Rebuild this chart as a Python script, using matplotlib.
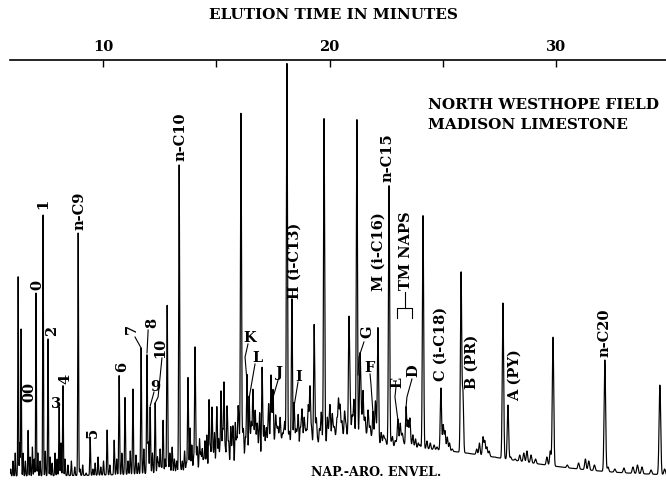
import numpy as np
import matplotlib
matplotlib.use("Agg")
import matplotlib.pyplot as plt

plt.rcParams["font.family"] = ["DejaVu Serif"]
plt.rcParams["font.weight"] = "bold"

# Resolved peaks: retention time (min) and apex detector response
peak_times = [6.25, 6.38, 6.69, 7.04, 7.35, 7.57, 8.06, 8.23, 8.90, 9.43,
              10.18, 10.49, 10.71, 10.97, 11.32, 11.68, 11.94, 12.08, 12.30, 12.65,
              12.83, 13.36, 13.75, 13.84, 14.06, 14.68, 14.81, 15.03, 15.21, 15.34,
              15.47, 15.74, 15.96, 16.09, 16.36, 16.45, 16.62, 17.02, 17.42, 17.51,
              18.12, 18.34, 18.43, 18.79, 19.14, 19.32, 19.76, 20.02, 20.46, 20.86,
              20.99, 21.21, 21.35, 21.48, 21.92, 22.01, 22.14, 22.63, 23.02, 23.38,
              23.55, 24.13, 24.92, 25.81, 25.89, 26.78, 27.66, 27.88, 29.87, 32.16,
              34.59]
peak_apex = [208, 154, 53, 190, 270, 145, 76, 98, 250, 46,
             53, 43, 108, 86, 94, 135, 128, 76, 80, 63,
             178, 318, 106, 55, 133, 83, 75, 66, 91, 100,
             66, 53, 70, 366, 100, 85, 80, 110, 101, 86,
             418, 183, 76, 65, 91, 156, 363, 70, 71, 161,
             60, 364, 123, 88, 70, 58, 152, 298, 63, 76,
             63, 268, 95, 210, 90, 46, 180, 78, 146, 123,
             98]

# Small unresolved components ("grass")
minor_times = [5.92, 6.02, 6.12, 6.32, 6.47, 6.57, 6.78, 6.88, 6.96, 7.12,
               7.22, 7.45, 7.66, 7.75, 7.88, 7.97, 8.14, 8.32, 8.45, 8.60,
               8.75, 8.98, 9.10, 9.25, 9.55, 9.65, 9.78, 9.90, 10.02,
               10.30, 10.60, 10.83, 11.10, 11.20, 11.45, 11.56, 11.80, 12.00, 12.18,
               12.40, 12.52, 12.74, 12.95, 13.05, 13.15, 13.50, 13.60, 13.92, 14.16,
               14.26, 14.38, 14.50, 14.58, 14.92, 15.10, 15.28, 15.55, 15.64, 15.84,
               16.00, 16.20, 16.28, 16.55, 16.72, 16.82, 16.92, 17.12, 17.22, 17.32,
               17.62, 17.72, 17.82, 17.92, 18.02, 18.24, 18.52, 18.62, 18.70, 18.88,
               18.98, 19.06, 19.20, 19.42, 19.55, 19.64, 19.90, 19.98, 20.12, 20.22,
               20.32, 20.40, 20.55, 20.66, 20.74, 20.92, 21.08, 21.40, 21.58, 21.70,
               21.80, 22.04, 22.28, 22.38, 22.48, 22.78, 22.90, 23.12, 23.22, 23.46,
               23.68, 23.80, 23.92, 24.00, 24.30, 24.45, 24.62, 24.75, 25.02, 25.10,
               25.20, 25.30, 25.42, 25.60, 26.10, 26.30, 26.50, 26.62, 26.86, 26.95,
               27.05, 27.30, 28.00, 28.20, 28.40, 28.58, 28.72, 28.90, 29.10, 29.60,
               29.75, 30.50, 31.00, 31.30, 31.45, 31.70, 32.30, 32.60, 33.00, 33.40,
               33.60, 33.80, 34.20, 34.80,
               12.45, 12.58, 12.88, 13.25, 13.42, 13.68, 14.00, 14.10, 14.32, 14.44,
               14.74, 14.86, 15.00, 15.16, 15.40, 15.50, 15.70, 15.90, 16.05, 16.15,
               16.33, 16.50, 16.60, 16.67, 16.78, 16.88, 17.06, 17.18, 17.28, 17.38,
               17.47, 17.57, 17.67, 17.77, 17.87, 17.97, 18.07, 18.20, 18.29, 18.47,
               18.57, 18.75, 18.83, 18.93, 19.02, 19.10, 19.25, 19.37, 19.48, 19.60,
               19.70, 19.82, 19.94, 20.06, 20.17, 20.27, 20.36, 20.50, 20.60, 20.70,
               20.80, 20.90, 21.03, 21.14, 21.30, 21.44, 21.54, 21.64, 21.75, 21.86,
               21.97, 22.10, 22.20, 22.33, 22.43, 22.55, 22.72, 22.84, 22.96, 23.07,
               23.17, 23.28, 23.50, 23.60, 23.74, 23.86]
minor_apex = [14, 22, 30, 40, 30, 22, 26, 36, 24, 30,
              22, 32, 26, 20, 30, 24, 40, 24, 18, 22,
              16, 14, 18, 10, 14, 20, 26, 16, 22,
              18, 24, 30, 22, 32, 28, 20, 34, 40, 30,
              26, 34, 24, 30, 36, 24, 22, 32, 38, 36,
              44, 34, 42, 48, 50, 44, 52, 40, 56, 60,
              48, 52, 44, 58, 70, 52, 66, 56, 50, 72,
              64, 52, 62, 46, 58, 44, 50, 66, 52, 62,
              48, 70, 54, 62, 52, 66, 62, 48, 66, 52,
              58, 78, 58, 66, 52, 70, 80, 66, 58, 70,
              54, 66, 50, 46, 42, 46, 42, 58, 48, 60,
              48, 44, 40, 38, 42, 40, 38, 36, 58, 52,
              46, 40, 34, 30, 30, 28, 34, 40, 42, 36,
              32, 26, 26, 24, 28, 30, 32, 28, 24, 26,
              32, 18, 20, 24, 22, 18, 16, 14, 15, 16,
              18, 16, 13, 14,
              20, 16, 20, 22, 16, 20, 24, 32, 30, 24,
              36, 30, 38, 32, 34, 40, 36, 44, 38, 46,
              38, 42, 36, 44, 46, 38, 46, 40, 48, 42,
              50, 38, 50, 44, 40, 46, 38, 44, 36, 42,
              46, 50, 38, 48, 40, 46, 38, 48, 42, 44,
              40, 46, 42, 44, 50, 42, 48, 50, 44, 48,
              46, 42, 52, 46, 48, 44, 52, 46, 48, 44,
              40, 44, 40, 38, 42, 38, 40, 36, 40, 38,
              42, 40, 42, 38, 36, 34]

# Naphthenic-aromatic envelope under the resolved peaks
ENV_BASE = 7.0
ENV_HEIGHT = 28.0
ENV_CENTER = 23.0
ENV_SIGMA_LEFT = 5.0
ENV_SIGMA_RIGHT = 4.8

axis_ticks = [10, 15, 20, 25, 30]
axis_tick_labels = ["10", "", "20", "", "30"]

# Peak labels: text, time, response, rotation
labels = [
    ("00", 6.73, 91, 90), ("0", 7.09, 198, 90), ("1", 7.35, 279, 90),
    ("2", 7.75, 152, 90), ("3", 7.92, 79, 0), ("4", 8.32, 104, 90),
    ("n-C9", 8.94, 272, 90), ("5", 9.56, 50, 90), ("6", 10.84, 116, 90),
    ("7", 11.28, 154, 90), ("8", 12.16, 160, 90), ("9", 12.30, 96, 0),
    ("10", 12.52, 135, 90), ("n-C10", 13.40, 346, 90), ("K", 16.49, 145, 0),
    ("L", 16.84, 125, 0), ("J", 17.77, 110, 0), ("H (i-C13)", 18.48, 222, 90),
    ("I", 18.65, 106, 0), ("M (i-C16)", 22.19, 231, 90), ("G", 21.66, 151, 90),
    ("F", 21.79, 115, 0), ("n-C15", 22.54, 325, 90), ("TM NAPS", 23.38, 232, 90),
    ("E", 22.98, 101, 90), ("D", 23.69, 112, 90), ("C (i-C18)", 24.92, 139, 90),
    ("B (PR)", 26.29, 121, 90), ("A (PY)", 28.19, 108, 90), ("n-C20", 32.16, 150, 90),
]

# Leader lines from labels to their peaks
leaders = [
    [(11.41, 146), (11.68, 135)],
    [(11.99, 153), (11.94, 130)],
    [(12.25, 91), (12.08, 77)],
    [(12.60, 125), (12.43, 86), (12.30, 80)],
    [(16.40, 139), (16.27, 126), (16.36, 100)],
    [(16.71, 119), (16.45, 85)],
    [(17.73, 103), (17.51, 86)],
    [(18.61, 101), (18.43, 76)],
    [(21.52, 141), (21.30, 126), (21.26, 108)],
    [(21.79, 109), (21.83, 99), (21.92, 70)],
    [(22.94, 97), (22.89, 86), (23.02, 63)],
    [(23.64, 104), (23.42, 86), (23.38, 76)],
    [(23.33, 191), (23.33, 175)],
    [(22.98, 165), (22.98, 175), (23.64, 175), (23.64, 165)],
]


def envelope(t):
    t = np.asarray(t, dtype=float)
    sig = np.where(t < ENV_CENTER, ENV_SIGMA_LEFT, ENV_SIGMA_RIGHT)
    return ENV_BASE + ENV_HEIGHT * np.exp(-0.5 * ((t - ENV_CENTER) / sig) ** 2)


t = np.arange(5.9, 34.9, 0.004)
signal = envelope(t)
for tc, apex in zip(peak_times + minor_times, peak_apex + minor_apex):
    amp = max(apex - float(envelope(tc)), 0.0)
    width = 0.015 + 0.0007 * (tc - 6.0)
    signal = signal + amp * np.exp(-0.5 * ((t - tc) / width) ** 2)

fig = plt.figure(figsize=(6.66, 4.83), dpi=100)
ax = fig.add_axes([10 / 666, 0.0, 656 / 666, 423 / 483])
ax.plot(t, signal, color="black", lw=0.85)
ax.set_xlim(5.89, 34.86)
ax.set_ylim(0, 423)

for side in ("left", "right", "bottom"):
    ax.spines[side].set_visible(False)
ax.spines["top"].set_linewidth(1.2)
ax.xaxis.tick_top()
ax.set_xticks(axis_ticks)
ax.set_xticklabels(axis_tick_labels)
ax.tick_params(axis="x", direction="in", length=5, width=1, pad=4,
               labelsize=10.5, top=True, bottom=False)
ax.set_yticks([])

for text, x, y, rot in labels:
    ax.text(x, y, text, rotation=rot, ha="center", va="center",
            fontsize=10.5, fontweight="bold")

for pts in leaders:
    xs, ys = zip(*pts)
    ax.plot(xs, ys, color="black", lw=0.8)

ax.text(22.05, 11, "NAP.-ARO. ENVEL.", ha="center", va="center",
        fontsize=9, fontweight="bold")

fig.text(0.5, 1 - 15 / 483, "ELUTION TIME IN MINUTES", ha="center", va="center",
         fontsize=11, fontweight="bold")
fig.text(428 / 666, 1 - 105 / 483, "NORTH WESTHOPE FIELD", ha="left", va="center",
         fontsize=11, fontweight="bold")
fig.text(428 / 666, 1 - 125 / 483, "MADISON LIMESTONE", ha="left", va="center",
         fontsize=11, fontweight="bold")

fig.savefig("out.png", dpi=100)
